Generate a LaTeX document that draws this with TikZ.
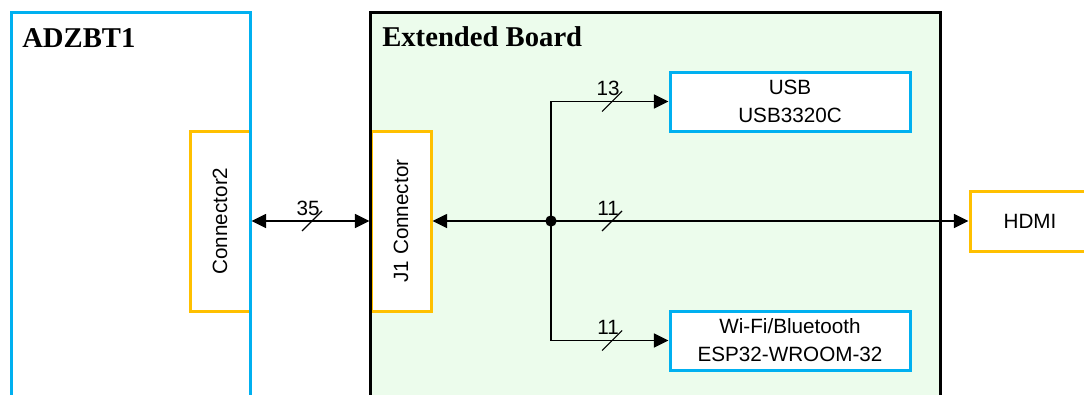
\documentclass[tikz,border=0pt]{standalone}
\usepackage{fontspec}
\setmainfont{Liberation Serif}
\setsansfont{Liberation Sans}
\usepackage{graphicx}
\usetikzlibrary{arrows.meta}

\definecolor{boardblue}{RGB}{0,176,240}
\definecolor{connorange}{RGB}{255,192,0}
\definecolor{boardgreen}{RGB}{236,252,236}

\tikzset{
  title/.style={anchor=base west, inner sep=0pt, font=\bfseries\fontsize{21.5}{25}\selectfont},
  conn/.style={draw=connorange, line width=2.25pt, fill=white, minimum width=45pt, minimum height=135pt, inner sep=0pt},
  chip/.style={draw=boardblue, line width=2.25pt, fill=white, minimum width=180pt, minimum height=44.25pt, align=center, inner sep=0pt},
  wire/.style={line width=1.2pt, -{Triangle[length=11pt,width=10.5pt]}},
  biwire/.style={line width=1.2pt, {Triangle[length=11pt,width=10.5pt]}-{Triangle[length=11pt,width=10.5pt]}},
  pics/bus/.style={code={
    \draw[-, line width=0.9pt] (-10,10) -- (10,-10);
    \node[anchor=base] at (-4,-6) {#1};
  }}
}

\begin{document}
\begin{tikzpicture}[x=0.75pt, y=-0.75pt, every node/.style={font=\sffamily\fontsize{15.5}{21}\selectfont}]
  \useasboundingbox (0,0) rectangle (1084,394);
  \clip (0,0) rectangle (1084,394);

  % boards
  \fill[boardgreen] (370,12) rectangle (940,420);
  \node[conn] (c2) at (220,221) {\rotatebox{90}{Connector2}};
  \node[conn] (j1) at (401,221) {\rotatebox{90}{J1 Connector}};
  \draw[boardblue, line width=2.25pt] (11,420) |- (250,12) -- (250,420);
  \draw[line width=2.25pt] (370,420) |- (940,12) -- (940,420);
  \node[title] (adz) at (22,47) {ADZBT1};
  \node[title] (ext) at (382,46) {Extended Board};

  % parts
  \node[chip] (usb) at (790,101.5) {USB\\USB3320C};
  \node[chip] (wifi) at (790,340.5) {Wi-Fi/Bluetooth\\ESP32-WROOM-32};
  \node[conn, minimum width=90pt, minimum height=45pt] (hdmi) at (1030,221) {HDMI};
  \node[circle, fill, inner sep=0pt, minimum size=8.5pt] (junc) at (551,221) {};

  % buses
  \draw[biwire] (c2.east) -- pic[pos=0.513] {bus=35} (j1.west);
  \draw[biwire] (j1.east) -- pic[pos=0.335] {bus=11} (hdmi.west);
  \draw[wire] (junc.center) |- pic[pos=0.76] {bus=13} (usb.west);
  \draw[wire] (junc.center) |- pic[pos=0.76] {bus=11} (wifi.west);
\end{tikzpicture}
\end{document}
